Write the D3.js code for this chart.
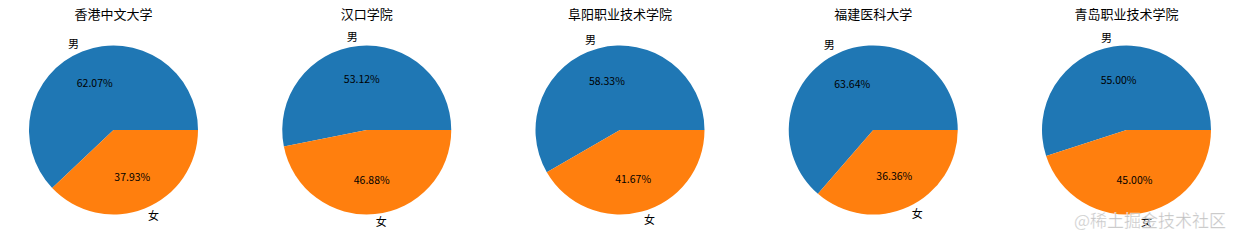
<!DOCTYPE html>
<html><head><meta charset="utf-8">
<script src="https://cdn.jsdelivr.net/npm/d3@7"></script>
<style>body{margin:0;background:#fff}svg{display:block}</style>
</head><body>
<svg id="c" width="1240" height="244"></svg>
<script>
const schools = ["香港中文大学","汉口学院","阜阳职业技术学院","福建医科大学","青岛职业技术学院"];
const genders = ["男","女"];
const malePct = [62.07, 53.12, 58.33, 63.64, 55.00];
const femalePct = [37.93, 46.88, 41.67, 36.36, 45.00];
const colors = ["#1f77b4","#ff7f0e"];

const svg = d3.select("#c");
const font = "'Noto Sans CJK SC', sans-serif";
const R = 84.5;
const cy = 130;
const x = d3.scalePoint().domain(schools).range([113.5, 1126.5]);

const pie = d3.pie().sort(null).value(d => d.v).startAngle(Math.PI/2).endAngle(Math.PI/2 - 2*Math.PI);
const arc = d3.arc().innerRadius(0).outerRadius(R);

schools.forEach((s, i) => {
  const data = [{k: genders[0], v: malePct[i]}, {k: genders[1], v: femalePct[i]}];
  const g = svg.append("g").attr("transform", `translate(${x(s)},${cy})`);
  const arcs = pie(data);
  g.selectAll("path").data(arcs).join("path")
    .attr("d", arc).attr("fill", (d, j) => colors[j]);
  arcs.forEach((a, j) => {
    const mid = (a.startAngle + a.endAngle) / 2;
    const ux = Math.sin(mid), uy = -Math.cos(mid);
    g.append("text")
      .attr("x", 1.1 * R * ux).attr("y", 1.1 * R * uy)
      .attr("dy", "0.35em")
      .attr("text-anchor", ux > 0 ? "start" : "end")
      .attr("font-family", font).attr("font-size", 11).attr("fill", "#000")
      .text(a.data.k);
    g.append("text")
      .attr("x", 0.6 * R * ux).attr("y", 0.6 * R * uy)
      .attr("dy", "0.35em")
      .attr("text-anchor", "middle")
      .attr("font-family", font).attr("font-size", 10.5).attr("fill", "#000")
      .text(a.data.v.toFixed(2) + "%");
  });
  svg.append("text")
    .attr("x", x(s)).attr("y", 19)
    .attr("text-anchor", "middle")
    .attr("font-family", font).attr("font-size", 13).attr("fill", "#000")
    .text(s);
});

svg.append("text")
  .attr("x", 1226).attr("y", 227)
  .attr("text-anchor", "end")
  .attr("font-family", font).attr("font-size", 17)
  .attr("fill", "#b4b4b4").attr("fill-opacity", 0.85)
  .attr("stroke", "#fff").attr("stroke-width", 0.6).attr("stroke-opacity", 0.6)
  .text("@稀土掘金技术社区");
</script>
</body></html>
